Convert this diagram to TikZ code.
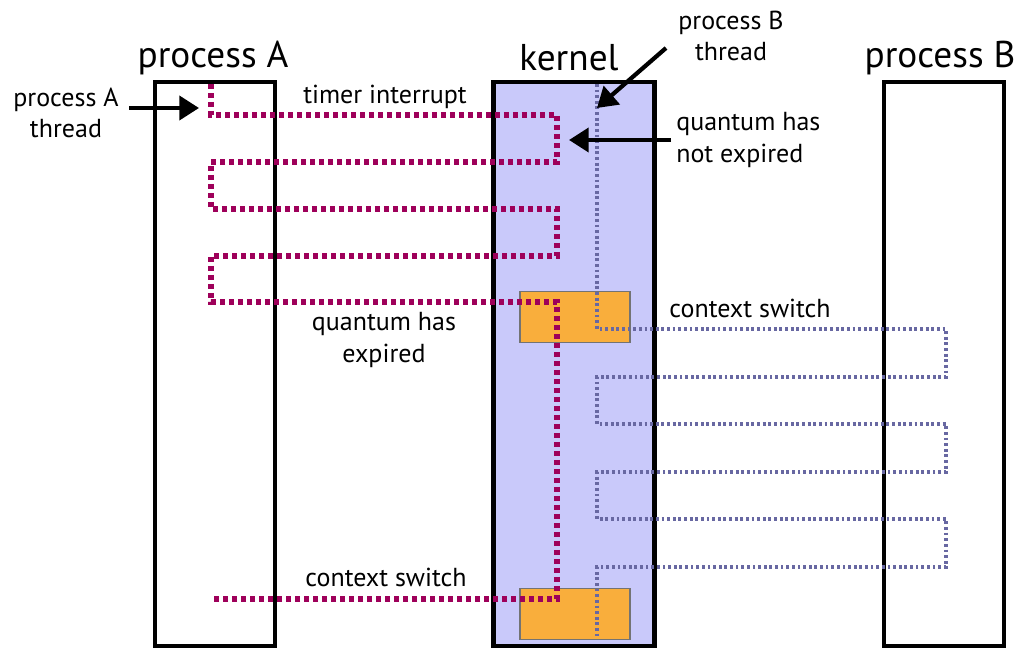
\documentclass[tikz,border=0pt]{standalone}
\usepackage{fontspec}
\setmainfont{PT Sans}
\usepackage{tikz}
\usetikzlibrary{positioning, arrows.meta}
\definecolor{threadA}{HTML}{9E005A}
\definecolor{threadB}{HTML}{6868A2}
\definecolor{kernfill}{HTML}{C9C9FA}
\definecolor{switchfill}{HTML}{F9AE3C}

\begin{document}
\begin{tikzpicture}[x=0.025cm, y=-0.025cm,
    title/.style={font=\fontsize{26.5}{32}\selectfont},
    lbl/.style={font=\fontsize{18.5}{22.5}\selectfont, align=center, inner sep=0pt},
    procbox/.style={draw, line width=3.2pt, minimum height=14.1cm, inner sep=0pt},
    switchbox/.style={draw=black!55, fill=switchfill, line width=0.8pt,
        minimum width=2.75cm, minimum height=1.28cm, inner sep=0pt},
    pathA/.style={threadA, line width=4pt, dash pattern=on 3.4pt off 3pt},
    pathB/.style={threadB, line width=2.6pt, dash pattern=on 2pt off 2pt},
    ptr/.style={line width=3pt, -{Triangle[length=14pt, width=17pt]}}]
    \useasboundingbox (0,0) rectangle (1016,650);

    % boxes
    \node[procbox, minimum width=3cm] (procA) at (215,364) {};
    \node[procbox, fill=kernfill, minimum width=4.02cm] (kern) at (574,364) {};
    \node[procbox, minimum width=3cm] (procB) at (944,364) {};
    \node[switchbox] (sw1) at (575,317) {};
    \node[switchbox] (sw2) at (575,614) {};

    % titles
    \node[title] (tA) at (213,58) {process A};
    \node[title] (tK) at (569,58) {kernel};
    \node[title] (tB) at (940,58) {process B};

    % thread of process A
    \draw[pathA] (211,84) |- (557,115) |- (211,162) |- (557,209)
        |- (211,256) |- (557,302) -- (557,599) -- (214,599);

    % thread of process B
    \draw[pathB] (597,84) |- (946,329) |- (597,377) |- (946,424)
        |- (597,472) |- (946,519) |- (597,567) -- (597,638);

    % labels
    \node[lbl] (lblA) at (66,113) {process A\\thread};
    \node[lbl] (lblB) at (731,36) {process B\\thread};
    \node[lbl] (timer) at (385,97) {timer interrupt};
    \node[lbl, align=left, anchor=west] (notexp) at (676,140) {quantum has\\not expired};
    \node[lbl] (exp) at (384,340) {quantum has\\expired};
    \node[lbl] (csR) at (750,308) {context switch};
    \node[lbl] (csL) at (386,577) {context switch};

    % pointers
    \coordinate (tipA) at (199,108);
    \coordinate (tipB) at (597,108);
    \coordinate (tipN) at (569,140);
    \draw[ptr] (129,108) -- (tipA);
    \draw[ptr] (666,48) -- (tipB);
    \draw[ptr] (notexp.west) ++(-5,0) -- (tipN);
\end{tikzpicture}
\end{document}
